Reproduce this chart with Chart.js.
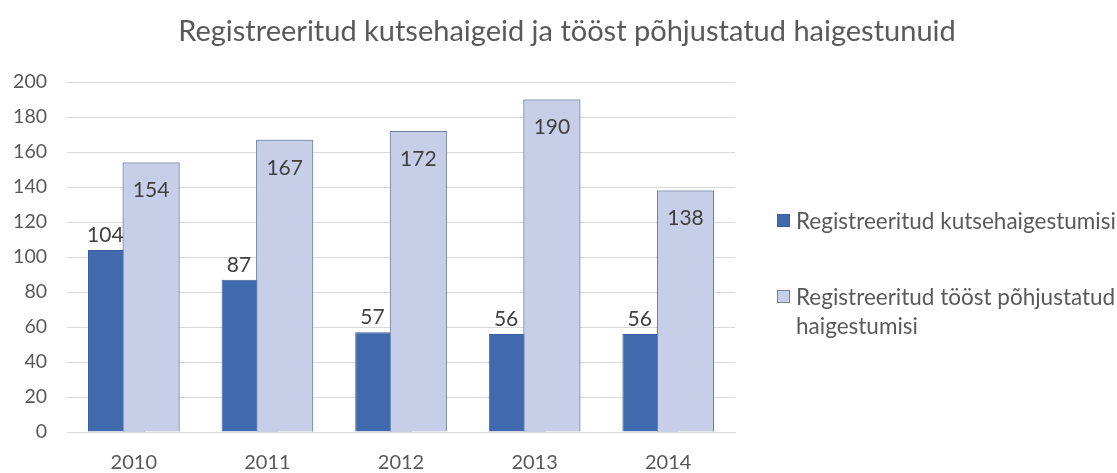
<!DOCTYPE html>
<html>
<head>
<meta charset="utf-8">
<script src="https://cdn.jsdelivr.net/npm/chart.js@4.4.1/dist/chart.umd.min.js"></script>
<style>
  html, body { margin: 0; padding: 0; background: #fff; }
  #wrap { position: relative; width: 1117px; height: 473px; font-family: Lato, "Open Sans", sans-serif; color: #595959; }
  #title { position: absolute; left: 17px; top: 12px; width: 1100px; text-align: center; font-size: 29px; line-height: 36px; white-space: nowrap; }
  #legend { position: absolute; left: 777px; top: 0; width: 340px; }
  .item { position: absolute; left: 0; display: flex; align-items: flex-start; font-size: 22.5px; line-height: 29px; white-space: nowrap; }
  .sw { width: 13px; height: 13px; margin-top: 8px; margin-right: 6px; box-sizing: border-box; flex: none; }
  canvas { position: absolute; left: 0; top: 0; }
</style>
</head>
<body>
<div id="wrap">
  <canvas id="c" width="1117" height="473"></canvas>
  <div id="title"></div>
  <div id="legend"></div>
</div>
<script>
const chartTitle = "Registreeritud kutsehaigeid ja tööst põhjustatud haigestunuid";
const categories = ["2010", "2011", "2012", "2013", "2014"];
const seriesNames = ["Registreeritud kutsehaigestumisi", "Registreeritud tööst põhjustatud haigestumisi"];
const legendLines = [["Registreeritud kutsehaigestumisi"], ["Registreeritud tööst põhjustatud", "haigestumisi"]];
const kutsehaigestumisi = [104, 87, 57, 56, 56];
const toostPohjustatud = [154, 167, 172, 190, 138];
const yTicks = [0, 20, 40, 60, 80, 100, 120, 140, 160, 180, 200];

const darkFill = "#4169ad", darkBorder = "#3a5f9e";
const lightFill = "#c7cfe8", lightBorder = "#7080a0";

document.getElementById("title").textContent = chartTitle;
const legend = document.getElementById("legend");
const legendTops = [206, 282];
const colors = [[darkFill, darkBorder], [lightFill, lightBorder]];
legendLines.forEach((lines, i) => {
  const it = document.createElement("div");
  it.className = "item";
  it.style.top = legendTops[i] + "px";
  const sw = document.createElement("div");
  sw.className = "sw";
  sw.style.background = colors[i][0];
  sw.style.border = "1px solid " + colors[i][1];
  const tx = document.createElement("div");
  lines.forEach((l, k) => {
    if (k) tx.appendChild(document.createElement("br"));
    tx.appendChild(document.createTextNode(l));
  });
  it.appendChild(sw); it.appendChild(tx);
  legend.appendChild(it);
});

const labelPlugin = {
  id: "labels",
  afterDatasetsDraw(chart) {
    const ctx = chart.ctx;
    // redraw light bars on top so they overlap the dark bars
    chart.getDatasetMeta(1).controller.draw();
    const m0 = chart.getDatasetMeta(0), m1 = chart.getDatasetMeta(1);
    ctx.save();
    ctx.font = "21px Lato";
    ctx.fillStyle = "#404040";
    ctx.textAlign = "center";
    ctx.textBaseline = "middle";
    m0.data.forEach((bar, i) => {
      const left = bar.x - bar.width / 2;
      const lightLeft = m1.data[i].x - m1.data[i].width / 2;
      ctx.fillText(String(kutsehaigestumisi[i]), (left + lightLeft) / 2, bar.y - 15);
    });
    m1.data.forEach((bar, i) => {
      ctx.fillText(String(toostPohjustatud[i]), bar.x, bar.y + 28);
    });
    ctx.restore();
  }
};

new Chart(document.getElementById("c"), {
  type: "bar",
  data: {
    labels: categories,
    datasets: [
      { label: seriesNames[0], data: kutsehaigestumisi, backgroundColor: darkFill, borderColor: darkBorder, borderWidth: 1 },
      { label: seriesNames[1], data: toostPohjustatud, backgroundColor: lightFill, borderColor: lightBorder, borderWidth: 1 }
    ]
  },
  options: {
    responsive: false,
    animation: false,
    events: [],
    categoryPercentage: 0.518,
    barPercentage: 1.647,
    layout: { padding: { top: 82, right: 382, left: 0, bottom: 0 } },
    plugins: { legend: { display: false }, title: { display: false }, tooltip: { enabled: false } },
    scales: {
      x: {
        grid: { display: false, drawTicks: false },
        border: { display: true, color: "#d9d9d9", width: 1 },
        ticks: { color: "#595959", font: { family: "Lato", size: 20 }, padding: 19 },
        afterFit(s) { s.height = 41; }
      },
      y: {
        min: 0, max: 200,
        afterBuildTicks(s) { s.ticks = yTicks.map(v => ({ value: v })); },
        grid: { color: "#d9d9d9", drawTicks: false },
        border: { display: false },
        ticks: { color: "#595959", font: { family: "Lato", size: 19.5 }, padding: 20 },
        afterFit(s) { s.width = 67; }
      }
    }
  },
  plugins: [labelPlugin]
});
</script>
</body>
</html>
